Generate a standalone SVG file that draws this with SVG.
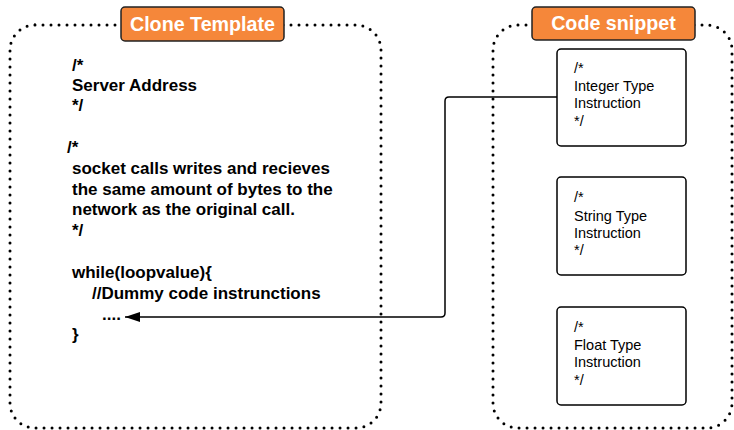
<svg xmlns="http://www.w3.org/2000/svg" width="734" height="430" viewBox="0 0 734 430">
<style>
.cont{fill:none;stroke:#000;stroke-width:3;stroke-dasharray:0 8;stroke-linecap:round}
.lbl{fill:#F5873A;stroke:#222;stroke-width:1.5}
.lt{font-family:"Liberation Sans",Arial,sans-serif;font-weight:bold;font-size:19.7px;fill:#fff;text-anchor:middle}
.code{font-family:"Liberation Sans",Arial,sans-serif;font-weight:bold;font-size:17px;fill:#000}
.box{fill:#fff;stroke:#000;stroke-width:1.5}
.bt{font-family:"Liberation Sans",Arial,sans-serif;font-size:14.5px;fill:#000}
.conn{fill:none;stroke:#000;stroke-width:1.5}
</style>
<defs>
<marker id="ah" markerWidth="16" markerHeight="10" refX="15" refY="5" orient="auto" markerUnits="userSpaceOnUse">
<path d="M0,0 L15,5 L0,10 Z" fill="#000"/>
</marker>
</defs>
<rect width="734" height="430" fill="#fff"/>
<g id="clone-template">
<rect class="cont" x="10" y="25" width="371" height="403" rx="25"/>
<rect class="lbl" x="121" y="7" width="163" height="34" rx="4"/>
<text class="lt" x="202.5" y="31">Clone Template</text>
<text class="code" x="72" y="71">/*</text>
<text class="code" x="72" y="91">Server Address</text>
<text class="code" x="72" y="111">*/</text>
<text class="code" x="67" y="153">/*</text>
<text class="code" x="72" y="174">socket calls writes and recieves</text>
<text class="code" x="72" y="195">the same amount of bytes to the</text>
<text class="code" x="72" y="215">network as the original call.</text>
<text class="code" x="72" y="236">*/</text>
<text class="code" x="72" y="278">while(loopvalue){</text>
<text class="code" x="92" y="299">//Dummy code instrunctions</text>
<text class="code" x="102" y="320">....</text>
<text class="code" x="72" y="340">}</text>
</g>
<g id="code-snippet">
<rect class="cont" x="493" y="25" width="239" height="403" rx="25"/>
<rect class="lbl" x="532" y="7" width="163" height="33" rx="4"/>
<text class="lt" x="613.5" y="30">Code snippet</text>
</g>
<g id="integer-box">
<rect class="box" x="557" y="49" width="129" height="97" rx="4"/>
<text class="bt" x="574" y="73">/*</text>
<text class="bt" x="574" y="91">Integer Type</text>
<text class="bt" x="574" y="108">Instruction</text>
<text class="bt" x="574" y="126">*/</text>
</g>
<g id="string-box">
<rect class="box" x="557" y="177" width="129" height="98" rx="4"/>
<text class="bt" x="574" y="202">/*</text>
<text class="bt" x="574" y="221">String Type</text>
<text class="bt" x="574" y="238">Instruction</text>
<text class="bt" x="574" y="255">*/</text>
</g>
<g id="float-box">
<rect class="box" x="557" y="307" width="129" height="98" rx="4"/>
<text class="bt" x="574" y="332">/*</text>
<text class="bt" x="574" y="350">Float Type</text>
<text class="bt" x="574" y="367">Instruction</text>
<text class="bt" x="574" y="385">*/</text>
</g>
<g id="connectors">
<path class="conn" d="M557,97 L449,97 Q445,97 445,101 L445,313 Q445,317 441,317 L125,317" marker-end="url(#ah)"/>
</g>
</svg>
